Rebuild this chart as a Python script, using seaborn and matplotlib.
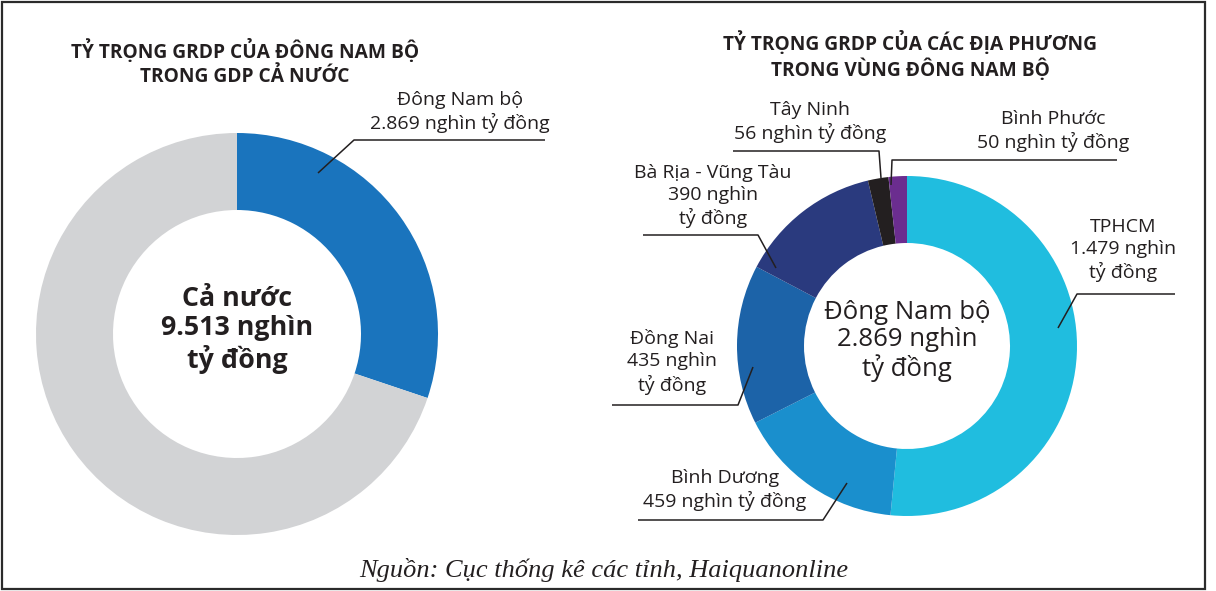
import matplotlib
matplotlib.use("Agg")
import matplotlib.pyplot as plt
import matplotlib.patches as mpatches
import seaborn as sns

# data (nghìn tỷ đồng)
national_total = 9513
region_total = 2869
left_names = ["Đông Nam bộ", "Các địa phương khác"]
left_values = [region_total, national_total - region_total]
left_colors = ["#1a74bd", "#d2d3d5"]

provinces = ["TPHCM", "Bình Dương", "Đồng Nai", "Bà Rịa - Vũng Tàu", "Tây Ninh", "Bình Phước"]
province_values = [1479, 459, 435, 390, 56, 50]
province_colors = ["#20bddf", "#1a8fcd", "#1c63a8", "#2a3a7e", "#231f20", "#6b2d8f"]

title_left = "TỶ TRỌNG GRDP CỦA ĐÔNG NAM BỘ\nTRONG GDP CẢ NƯỚC"
title_right = "TỶ TRỌNG GRDP CỦA CÁC ĐỊA PHƯƠNG\nTRONG VÙNG ĐÔNG NAM BỘ"
source = "Nguồn: Cục thống kê các tỉnh, Haiquanonline"


def fmt(v):
    return f"{v:,}".replace(",", ".")


sns.set_theme(style="white")
plt.rcParams["font.family"] = ["Open Sans", "DejaVu Sans"]
ink = "#231f20"

W, H = 1216, 591
fig = plt.figure(figsize=(W / 100, H / 100), dpi=100)
ax = fig.add_axes([0, 0, 1, 1])

# left donut
ax.pie(left_values, colors=left_colors, startangle=-90, counterclock=True,
       radius=201, center=(237, 334),
       wedgeprops=dict(width=77, edgecolor="none", linewidth=0))

# right donut
ax.pie(province_values, colors=province_colors, startangle=-90, counterclock=True,
       radius=170, center=(907, 346),
       wedgeprops=dict(width=67, edgecolor="none", linewidth=0))

ax.set_xlim(0, W)
ax.set_ylim(H, 0)
ax.set_aspect("auto")
ax.axis("off")

# titles
ax.text(245, 63, title_left, ha="center", va="center", fontsize=13.8,
        fontweight="bold", color=ink, linespacing=1.25)
ax.text(910, 56, title_right, ha="center", va="center", fontsize=13.8,
        fontweight="bold", color=ink, linespacing=1.25)

# centre texts
ax.text(237, 330, f"Cả nước\n{fmt(national_total)} nghìn\ntỷ đồng", ha="center",
        va="center", fontsize=19.3, fontweight="bold", color=ink, linespacing=1.15)
ax.text(907, 341, f"Đông Nam bộ\n{fmt(region_total)} nghìn\ntỷ đồng", ha="center",
        va="center", fontsize=18.5, color=ink, linespacing=1.12)

# labels with leader lines
labels = [
    (f"{left_names[0]}\n{fmt(left_values[0])} nghìn tỷ đồng", (460, 112),
     [(545, 140), (354, 140), (318, 173)]),
    (f"{provinces[0]}\n{fmt(province_values[0])} nghìn\ntỷ đồng", (1123, 250),
     [(1175, 294), (1077, 294), (1058, 328)]),
    (f"{provinces[1]}\n{fmt(province_values[1])} nghìn tỷ đồng", (725, 490),
     [(638, 520), (823, 520), (847, 483)]),
    (f"{provinces[2]}\n{fmt(province_values[2])} nghìn\ntỷ đồng", (672, 362),
     [(612, 405), (738, 405), (753, 367)]),
    (f"{provinces[3]}\n{fmt(province_values[3])} nghìn\ntỷ đồng", (713, 196),
     [(643, 235), (758, 235), (776, 268)]),
    (f"{provinces[4]}\n{fmt(province_values[4])} nghìn tỷ đồng", (810, 122),
     [(733, 151), (879, 151), (881, 178)]),
    (f"{provinces[5]}\n{fmt(province_values[5])} nghìn tỷ đồng", (1053, 131),
     [(1117, 160), (892, 160), (891, 185)]),
]
for text, (tx, ty), path in labels:
    ax.text(tx, ty, text, ha="center", va="center", fontsize=14, color=ink,
            linespacing=1.28)
    xs, ys = zip(*path)
    ax.plot(xs, ys, color=ink, lw=1.1, solid_capstyle="butt")

# source
ax.text(604, 570, source, ha="center", va="center", fontsize=19,
        style="italic", family=["Liberation Serif", "DejaVu Serif"], color=ink)

# frame
ax.add_patch(mpatches.Rectangle((1.5, 1.5), 1203, 587.5, fill=False,
                                edgecolor="#2b2b2b", lw=1.6))

fig.savefig("out.png", dpi=100)
